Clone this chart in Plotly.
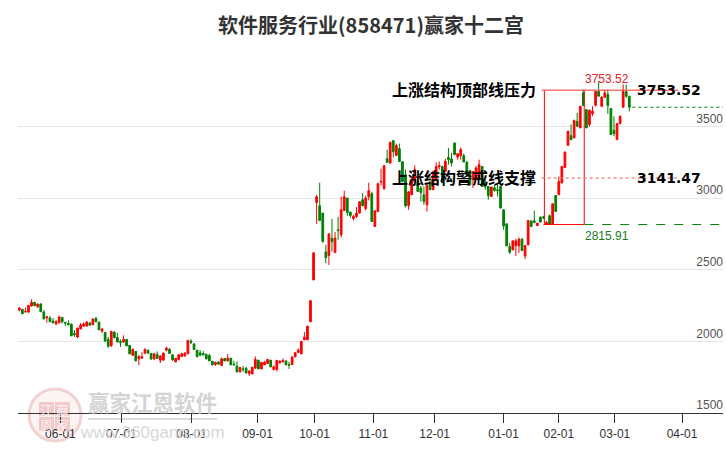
import plotly.graph_objects as go

opens = [2219,2224,2205,2205,2247,2273,2242,2261,2205,2165,2163,2142,2123,2130,2168,2133,2126,2119,2056,2030,
2088,2107,2107,2128,2116,2161,2135,2072,2063,2014,1969,2065,2028,2000,1995,2014,1972,1904,1930,1878,
1883,1918,1937,1916,1878,1909,1869,1869,1939,1946,1906,1857,1874,1895,1899,1913,2002,1981,1939,1920,
1916,1909,1902,1862,1839,1857,1832,1881,1864,1883,1841,1827,1787,1808,1813,1776,1773,1813,1869,1808,
1836,1846,1869,1804,1804,1850,1857,1864,1839,1839,1892,1923,1913,2011,2011,2137,2429,2970,2947,2896,
2625,2599,2721,2620,2779,2744,2914,3001,2903,2858,2872,2896,2989,2928,3010,3031,2802,2907,3113,3066,
3276,3246,3402,3299,3346,3255,3164,2947,3024,3115,3117,3071,3024,2954,3108,3059,3129,3220,3222,3187,
3285,3274,3386,3288,3297,3297,3253,3194,3129,3141,3129,3222,3108,3082,3012,3073,3059,3082,2919,2821,
2662,2639,2669,2667,2714,2597,2674,2842,2842,2809,2868,2870,2819,2877,2819,3019,3024,3106,3215,3369,
3437,3421,3537,3491,3736,3619,3514,3589,3649,3745,3642,3705,3724,3626,3474,3409,3521,3635,3745,3712]
highs = [2240,2224,2236,2254,2294,2273,2266,2266,2219,2177,2177,2163,2149,2181,2168,2133,2147,2126,2079,2095,
2128,2133,2142,2137,2161,2170,2135,2093,2067,2030,2074,2070,2060,2014,2042,2014,1972,1951,1932,1904,
1925,1951,1944,1916,1920,1930,1904,1923,1962,1953,1911,1885,1911,1920,1925,2007,2016,1990,1939,1939,
1932,1916,1913,1862,1860,1857,1888,1883,1911,1883,1864,1860,1822,1829,1822,1794,1820,1895,1871,1855,
1864,1878,1871,1834,1871,1867,1881,1867,1857,1897,1925,1951,2002,2065,2107,2287,2625,3024,3108,2896,
2674,2751,2856,2765,2870,3010,3052,3001,2905,2884,2938,2975,3036,3017,3108,3045,2912,3108,3206,3232,
3339,3395,3402,3381,3381,3255,3200,3045,3150,3230,3150,3085,3082,3089,3150,3187,3250,3257,3222,3276,
3351,3316,3386,3311,3353,3311,3253,3194,3187,3225,3269,3222,3129,3082,3078,3094,3094,3082,2919,2821,
2688,2702,2716,2725,2721,2669,2844,2842,2914,2826,2872,2877,2840,2886,2961,3019,3152,3222,3323,3472,
3514,3549,3596,3642,3759,3619,3619,3642,3745,3817,3712,3759,3759,3626,3572,3521,3578,3794,3794,3712]
lows = [2210,2193,2205,2198,2242,2249,2233,2205,2154,2130,2135,2126,2112,2126,2126,2107,2114,2039,2032,2023,
2084,2102,2102,2109,2114,2137,2079,2058,2000,1955,1962,2023,1993,1962,1995,1967,1911,1899,1862,1834,
1878,1911,1916,1876,1869,1878,1848,1869,1930,1916,1864,1855,1867,1890,1892,1913,1981,1944,1892,1899,
1902,1874,1864,1834,1829,1841,1827,1862,1862,1836,1834,1785,1785,1787,1776,1759,1773,1811,1806,1806,
1836,1843,1820,1797,1790,1848,1853,1836,1808,1834,1890,1920,1911,2011,2011,2137,2429,2821,2844,2690,
2546,2534,2627,2620,2709,2725,2910,2877,2863,2844,2863,2896,2947,2914,2984,2837,2802,2907,3089,3059,
3250,3241,3285,3294,3257,3110,2935,2919,3024,3110,3047,2977,2954,2907,3059,3059,3129,3199,3108,3187,
3234,3222,3304,3269,3269,3253,3164,3094,3071,3141,3129,3082,3059,2989,3012,3045,3012,2931,2779,2667,
2611,2639,2597,2618,2634,2574,2674,2802,2826,2809,2833,2856,2816,2816,2816,2907,3024,3106,3215,3369,
3405,3421,3502,3491,3647,3491,3500,3573,3640,3712,3635,3700,3589,3444,3432,3409,3516,3635,3700,3607]
closes = [2233,2193,2208,2252,2273,2249,2261,2207,2158,2172,2137,2130,2137,2170,2137,2128,2116,2039,2046,2093,
2114,2121,2135,2114,2156,2137,2081,2086,2002,1967,2070,2025,1997,1993,2014,1969,1913,1944,1864,1895,
1892,1944,1918,1876,1913,1881,1897,1918,1953,1916,1871,1881,1906,1913,1918,2007,1993,1944,1892,1904,
1906,1878,1864,1836,1853,1841,1878,1864,1883,1836,1836,1787,1818,1804,1780,1794,1820,1874,1808,1853,
1855,1874,1822,1822,1867,1862,1867,1836,1834,1890,1920,1939,2000,2028,2107,2284,2618,3010,2844,2697,
2585,2751,2697,2721,2774,2919,3010,2900,2879,2872,2896,2975,2947,3001,3052,2837,2912,3101,3117,3227,
3250,3390,3325,3367,3257,3117,2947,3045,3129,3199,3047,3040,2977,3089,3059,3187,3222,3227,3108,3257,
3269,3246,3304,3311,3339,3253,3164,3094,3187,3211,3234,3082,3080,3017,3078,3054,3052,2931,2807,2667,
2623,2702,2702,2714,2634,2669,2844,2802,2830,2826,2833,2863,2830,2819,2961,2907,3117,3222,3323,3467,
3409,3542,3502,3642,3647,3491,3614,3607,3745,3712,3705,3736,3647,3444,3451,3521,3572,3745,3712,3635]

tick_labels = ["06-01","07-01","08-01","09-01","10-01","11-01","12-01","01-01","02-01","03-01","04-01"]
tick_index = [13.4,33.3,56.2,77.7,96.3,115.5,135.5,158,176,194.3,216.2]
price_ticks = [1500,2000,2500,3000,3500,4000]
price_labels = ["1500","2000","2500","3000","3500",""]

resistance = 3753.52
warning = 3141.47
support = 2815.91
last_close = closes[-1]

n = len(closes)
xs = list(range(n))
spacing = 610 / (n - 1)
x0 = -1.3 / spacing
x1 = x0 + 705 / spacing
bar_left, bar_right = 171.3, 184.3
line_left = 170.4
line_right = 215

RED = "#ff0000"
GREEN = "#008000"

fig = go.Figure(go.Candlestick(
    x=xs, open=opens, high=highs, low=lows, close=closes,
    increasing=dict(line=dict(color=RED, width=1), fillcolor=RED),
    decreasing=dict(line=dict(color=GREEN, width=1), fillcolor=GREEN),
    whiskerwidth=0, hoverinfo="skip", showlegend=False))

def seg(xa, ya, xb, yb, color, width=1, dash="solid", opacity=1.0):
    fig.add_shape(type="line", x0=xa, y0=ya, x1=xb, y1=yb, xref="x", yref="y",
                  line=dict(color=color, width=width, dash=dash), opacity=opacity, layer="above")

seg(bar_left, resistance, bar_left, support, RED)
seg(bar_right, resistance, bar_right, support, RED)
seg(bar_left - 0.3, support, bar_right, support, RED)
seg(line_left, resistance, line_right, resistance, "#ff5050", 1.5, opacity=0.8)
seg(line_left, warning, line_right, warning, "#ff7070", 1.5, "dot", 0.8)
seg(bar_right, support, x1, support, GREEN, 1, "dash")
seg(200, last_close, x1, last_close, GREEN, 1, "dot")

def label(x, y, text, size, color, family, anchor="left", bold=False):
    t = f"<b>{text}</b>" if bold else text
    fig.add_annotation(x=x, y=y, xref="x", yref="y", text=t, showarrow=False, xanchor=anchor,
                       yanchor="middle", font=dict(size=size, color=color, family=family))

CJK = "Noto Sans CJK SC"
label(169.2, 3760, "上涨结构顶部线压力", 16, "#000000", CJK, "right", bold=True)
label(169.2, 3149, "上涨结构警戒线支撑", 16, "#000000", CJK, "right", bold=True)
label(201.0, 3753.52, "3753.52", 14, "#000000", "DejaVu Sans", bold=True)
label(201.0, 3141.47, "3141.47", 14, "#000000", "DejaVu Sans", bold=True)
label(184.0, 3835, "3753.52", 12, "#e8202a", "Liberation Sans")
label(184.0, 2735, "2815.91", 12, "#1a7a1a", "Liberation Sans")

# watermark, placed in paper coordinates converted from page pixels
def px(v): return (v - 18) / 705
def py(v): return (413 - v) / 358

def wm_shape(kind, xa, ya, xb, yb, line=None, fill=None, width=1):
    fig.add_shape(type=kind, xref="paper", yref="paper", x0=px(xa), x1=px(xb), y0=py(ya), y1=py(yb),
                  line=dict(color=line or "rgba(0,0,0,0)", width=width), fillcolor=fill, layer="below")

def wm_text(cx, cy, text, size, color, family):
    fig.add_annotation(xref="paper", yref="paper", x=px(cx), y=py(cy), text=text, showarrow=False,
                       xanchor="center", yanchor="middle", font=dict(size=size, color=color, family=family))

wm_shape("circle", 29, 389, 81, 441, line="#f3d2d2", fill="rgba(250,235,235,0.6)", width=3)
for (bx, by, ch) in [(39, 402, "江"), (55, 402, "赢"), (39, 417, "恩"), (55, 417, "家")]:
    wm_shape("rect", bx, by, bx + 15, by + 14, fill="#f1c9c9")
    wm_text(bx + 7.5, by + 7, ch, 13, "#fbeeee", CJK)
wm_shape("rect", 88, 418, 217, 420, fill="#dedede")
wm_text(152.5, 401, "<b>赢家江恩软件</b>", 21.5, "#d4d4d4", CJK)
wm_text(152, 432, "www.360gann.com", 17, "#d8d8d8", "Liberation Sans")

fig.update_layout(
    width=726, height=450, margin=dict(l=18, r=3, t=55, b=37),
    paper_bgcolor="white", plot_bgcolor="white", boxgap=0.2,
    title=dict(text="<b>软件服务行业(858471)赢家十二宫</b>", x=0.511, xanchor="center", y=0.943, yanchor="middle",
               font=dict(size=20, color="#333333", family=CJK)),
    xaxis=dict(range=[x0, x1], rangeslider=dict(visible=False), tickmode="array", tickvals=tick_index,
               ticktext=tick_labels, showgrid=False, zeroline=False, showline=True, linecolor="#333333",
               ticks="outside", ticklen=9, tickcolor="#333333", ticklabelstandoff=1,
               tickfont=dict(size=12, color="#333333", family="Liberation Sans")),
    yaxis=dict(range=[1500, 4000], tickmode="array", tickvals=price_ticks, ticktext=price_labels, side="right",
               ticklabelposition="inside", ticklabelshift=-8, ticklabelstandoff=-3, showgrid=True, gridcolor="#e6e6e6",
               zeroline=False, showline=False, ticks="",
               tickfont=dict(size=12, color="#555555", family="Liberation Sans")),
)
fig.write_html("out.html", post_script="document.body.style.margin='0';", config={"displayModeBar": False})
